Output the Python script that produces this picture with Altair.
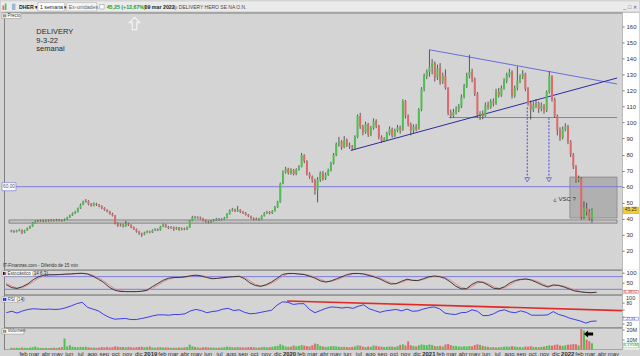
import altair as alt
import pandas as pd

# ---------------- weekly candles (close / high / low) and volume (millions) ----------------
first_open = 32.0

close_2018 = [32.5, 31.8, 32.6, 33.0, 31.5, 32.8, 34.0, 35.2, 37.6, 38.4,
              38.6, 38.9, 38.4, 39.0, 38.7, 39.2, 38.8, 39.4, 39.0, 38.8, 39.6,
              40.8, 42.0, 43.5, 44.2, 46.5, 48.8, 50.5, 51.2,
              49.0, 48.2, 49.5, 48.8, 47.9, 46.8, 45.5, 44.6, 43.2, 42.0,
              37.2, 35.8, 36.4, 35.2, 37.0, 36.2, 34.8, 33.6, 32.0, 30.8, 30.2, 31.5, 32.2, 31.6]
high_2018 = [33.2, 33.0, 33.1, 33.8, 33.4, 33.2, 34.6, 35.8, 38.0, 39.0,
             39.3, 39.5, 39.4, 39.6, 39.5, 39.8, 39.7, 40.0, 39.9, 39.5, 40.2,
             41.3, 42.6, 44.0, 45.0, 47.0, 49.5, 51.3, 52.3,
             51.6, 49.8, 50.2, 50.0, 49.2, 48.4, 47.2, 46.0, 45.0, 43.8,
             42.4, 37.8, 37.0, 36.9, 38.7, 37.6, 36.6, 35.2, 34.0, 32.5, 31.4, 32.0, 32.8, 32.6]
low_2018 = [31.6, 31.2, 31.5, 32.2, 30.5, 31.0, 32.5, 33.8, 35.0, 37.2,
            38.0, 38.2, 37.9, 38.0, 38.2, 38.3, 38.3, 38.4, 38.5, 38.2, 38.5,
            39.3, 40.5, 41.8, 43.0, 44.0, 46.2, 48.5, 50.0,
            48.4, 47.6, 47.8, 48.0, 47.2, 46.0, 45.0, 44.0, 42.6, 41.5,
            36.5, 35.0, 35.2, 34.6, 35.0, 35.5, 34.2, 33.0, 31.4, 30.0, 28.8, 29.8, 31.0, 31.0]
vol_2018 = [1.6, 1.4, 1.8, 1.5, 2.0, 1.7, 1.5, 1.9, 2.2, 3.0,
            1.8, 1.6, 1.5, 1.7, 1.4, 1.6, 1.8, 1.5, 2.0, 2.4,
            11.0, 3.0, 4.2, 2.8, 2.5, 2.2, 2.6, 2.4, 2.8, 2.2,
            1.8, 2.0, 1.6, 1.9, 2.4, 2.1, 2.6, 2.0, 2.3, 3.2,
            2.8, 2.4, 2.5, 2.1, 2.6, 2.2, 2.0, 2.3, 2.5, 2.8,
            2.2, 2.4, 3.0]

close_2019 = [32.8, 33.5, 32.9, 35.2, 36.4, 35.0, 34.2, 34.8, 33.6, 34.5, 33.2, 34.0, 33.4, 34.6,
              38.8, 41.2, 40.6, 41.0, 40.2, 39.0, 38.2, 37.8, 38.6, 39.2, 40.0, 39.4, 39.8, 40.5,
              43.0, 45.2, 46.0, 44.8, 45.6, 44.2, 43.8, 42.5, 41.6, 40.4, 39.6, 40.2, 39.4,
              41.8, 43.6, 44.2, 43.5, 44.8, 47.2, 50.5, 61.8, 69.0, 71.2, 68.5]
high_2019 = [33.4, 34.2, 34.0, 35.6, 37.0, 36.8, 35.5, 35.4, 35.2, 35.0, 34.9, 34.6, 34.5, 35.2,
             39.2, 41.9, 41.8, 41.6, 41.4, 40.6, 39.5, 38.8, 39.2, 39.8, 40.6, 40.5, 40.4, 41.2,
             43.6, 45.8, 46.8, 46.4, 48.0, 46.0, 44.9, 44.2, 43.0, 42.0, 40.9, 40.8, 40.6,
             42.3, 44.2, 45.0, 44.8, 45.4, 48.0, 51.2, 62.5, 70.2, 72.4, 71.8]
low_2019 = [31.2, 32.4, 32.3, 32.6, 34.8, 34.5, 33.6, 33.8, 32.5, 33.2, 32.6, 32.8, 32.9, 33.0,
            34.4, 38.5, 40.0, 40.0, 39.6, 38.5, 37.6, 37.2, 37.4, 38.2, 38.8, 38.9, 39.0, 39.4,
            40.2, 42.6, 44.6, 44.2, 44.3, 43.6, 43.0, 42.0, 41.0, 39.8, 39.0, 39.2, 38.9,
            39.2, 41.4, 43.0, 42.8, 43.0, 44.5, 46.8, 50.0, 61.5, 68.2, 67.6]
vol_2019 = [2.0, 1.8, 2.2, 2.4, 1.9, 2.1, 2.0, 1.6, 1.8, 1.7,
            2.0, 1.8, 2.2, 2.4, 4.8, 3.2, 2.5, 2.0, 1.8, 2.2,
            2.4, 2.1, 1.9, 2.0, 1.7, 1.8, 2.0, 2.2, 2.8, 2.6,
            2.3, 2.0, 2.4, 2.2, 1.9, 2.1, 2.3, 2.5, 2.2, 2.0,
            1.8, 2.4, 2.6, 2.1, 2.3, 2.8, 3.2, 3.6, 5.2, 4.0,
            3.0, 2.6]

close_2020 = [70.4, 67.8, 70.8, 72.5, 79.5, 76.0, 68.0, 66.2, 64.0, 58.0, 64.5, 68.5,
              65.0, 67.5, 70.2, 74.5, 80.0, 86.5, 88.0, 84.5, 89.0, 86.0, 85.0, 84.0,
              91.0, 104.0, 97.5, 94.0, 99.0, 92.5, 96.5, 101.0, 98.0, 91.0, 88.5, 89.5,
              93.0, 96.0, 91.5, 95.0, 97.0, 95.5, 113.5, 104.0, 99.0, 95.0, 97.5, 96.0,
              108.0, 121.0, 129.0, 131.5]
high_2020 = [71.5, 71.0, 71.5, 73.4, 81.0, 80.2, 76.5, 69.0, 67.0, 65.0, 66.0, 69.5,
             69.8, 68.8, 71.2, 75.5, 81.0, 87.5, 91.0, 89.0, 91.5, 90.0, 87.5, 86.0,
             92.0, 105.0, 106.0, 98.5, 100.5, 99.8, 97.8, 102.5, 102.0, 98.5, 92.0, 90.8,
             94.2, 97.5, 96.8, 96.2, 98.5, 98.0, 114.5, 114.0, 105.0, 100.0, 98.8, 99.0,
             109.0, 122.0, 130.5, 133.0]
low_2020 = [67.5, 67.0, 67.2, 70.0, 72.0, 74.6, 67.0, 65.0, 62.5, 55.0, 50.3, 63.0,
            63.8, 64.2, 66.8, 69.5, 73.8, 79.0, 85.0, 83.0, 84.0, 84.8, 83.5, 82.6,
            83.5, 90.2, 96.0, 92.0, 93.0, 91.0, 91.5, 95.5, 96.5, 89.5, 87.3, 87.8,
            88.8, 92.0, 90.5, 90.8, 94.0, 93.0, 94.8, 102.5, 97.5, 92.0, 93.5, 94.5,
            95.5, 107.0, 119.4, 127.0]
vol_2020 = [2.8, 4.0, 3.2, 3.6, 4.4, 3.8, 3.4, 3.0, 4.2, 6.0,
            5.4, 3.6, 3.0, 2.6, 2.8, 3.2, 3.5, 3.0, 2.8, 2.5,
            2.7, 2.4, 2.2, 2.6, 3.0, 4.2, 3.8, 2.8, 2.5, 3.0,
            2.6, 4.0, 3.6, 3.0, 2.8, 2.4, 2.6, 3.0, 2.8, 2.5,
            3.2, 4.6, 5.2, 4.0, 8.0, 4.2, 3.6, 3.0, 4.2, 5.0,
            4.6, 4.2]

close_2021 = [134.5, 137.0, 128.0, 134.0, 125.5, 129.0, 121.5, 106.0, 104.0, 106.5, 108.0, 110.0,
              116.0, 122.5, 129.0, 131.5, 127.0, 118.0, 104.5, 105.5, 104.0, 111.0, 109.5, 113.0,
              112.0, 119.0, 117.0, 121.5, 126.0, 129.5, 131.5, 116.5, 121.5, 126.0, 128.5, 130.5,
              121.0, 112.0, 108.0, 111.0, 112.0, 108.5, 110.5, 107.5, 119.0, 129.0, 114.5, 104.0,
              95.0, 90.5, 96.0, 97.5]
high_2021 = [145.3, 139.5, 138.0, 136.0, 137.0, 131.0, 133.0, 122.0, 108.0, 108.5, 110.0, 111.5,
             117.5, 124.0, 131.0, 142.2, 133.5, 128.0, 119.0, 107.0, 107.5, 112.5, 113.0, 114.5,
             115.0, 121.0, 121.5, 123.0, 127.5, 131.0, 133.5, 132.5, 123.0, 135.0, 130.0, 132.5,
             131.0, 122.0, 113.5, 113.0, 114.5, 113.0, 112.5, 111.5, 120.0, 131.9, 129.5, 115.5,
             105.0, 97.0, 97.5, 99.5]
low_2021 = [128.5, 130.0, 125.5, 126.5, 123.5, 124.0, 120.5, 104.5, 102.7, 103.0, 105.0, 106.5,
            109.0, 115.0, 121.5, 127.5, 125.0, 116.5, 103.0, 101.5, 102.0, 103.5, 108.0, 108.5,
            110.0, 111.0, 115.5, 116.0, 120.5, 124.5, 128.0, 115.0, 115.5, 120.0, 124.5, 127.0,
            119.5, 110.5, 101.9, 106.5, 109.0, 106.0, 107.0, 105.5, 106.5, 118.0, 113.0, 102.9,
            92.0, 88.5, 89.5, 94.5]
vol_2021 = [5.0, 4.4, 3.4, 3.2, 3.6, 3.0, 5.0, 5.6, 4.4, 3.6,
            3.4, 3.0, 2.8, 3.2, 3.0, 3.4, 3.2, 4.4, 5.2, 4.6,
            3.6, 3.0, 2.6, 2.2, 2.4, 2.0, 2.2, 2.4, 2.8, 3.0,
            2.8, 3.4, 3.0, 2.6, 2.4, 2.2, 3.0, 2.8, 3.4, 2.6,
            2.4, 2.2, 2.6, 2.8, 3.6, 4.2, 3.8, 4.6, 5.0, 4.0,
            3.6, 4.2]

close_2022 = [88.0, 80.0, 72.5, 64.0, 65.5, 41.0, 46.5, 44.5, 40.2, 45.25]
high_2022 = [98.5, 89.0, 81.0, 73.5, 67.0, 66.0, 51.0, 50.0, 46.0, 46.5]
low_2022 = [86.5, 78.5, 71.0, 62.5, 62.8, 39.5, 39.8, 42.0, 39.0, 37.6]
vol_2022 = [4.8, 5.0, 5.4, 5.2, 4.0, 20.5, 19.0, 10.0, 8.2, 6.2]

# ---------------- oscillators, read every two weeks ----------------
stoch_k = [42, 28, 24, 33, 46, 66, 80, 87, 89, 89, 90, 92, 93, 95, 96, 92, 82, 68, 52, 30,
           16, 10, 9, 9, 9, 11, 16, 33, 48, 63, 73, 76, 76, 79, 84, 87, 83, 76, 70, 72,
           75, 78, 80, 82, 70, 50, 38, 34, 42, 55, 72, 90, 95, 95, 92, 90, 82, 73, 60, 54,
           60, 70, 80, 90, 95, 95, 92, 85, 78, 69, 56, 45, 47, 58, 68, 62, 61, 70, 79, 83,
           80, 72, 55, 35, 22, 23, 43, 56, 53, 40, 25, 22, 32, 50, 62, 67, 69, 63, 52, 40,
           31, 41, 38, 31, 21, 12, 8, 5, 4, 6.4]
stoch_d = [48, 35, 26, 28, 40, 56, 73, 84, 88, 89, 90, 91, 92, 94, 95, 94, 87, 75, 60, 41,
           23, 13, 10, 9, 9, 10, 14, 25, 40, 56, 68, 75, 76, 78, 82, 86, 85, 80, 73, 71,
           74, 77, 79, 81, 76, 60, 44, 36, 38, 49, 64, 81, 93, 95, 94, 91, 86, 78, 67, 57,
           57, 65, 75, 85, 93, 95, 94, 89, 82, 74, 63, 51, 46, 53, 63, 65, 62, 66, 75, 81,
           82, 76, 64, 45, 29, 23, 33, 50, 55, 47, 33, 24, 27, 41, 56, 65, 68, 66, 58, 46,
           36, 36, 40, 35, 26, 17, 10, 7, 5, 5]
rsi = [51, 55, 50, 56, 60, 62, 61, 60, 61, 60, 61, 65, 70, 76, 80, 66, 61, 56, 46, 38,
       33, 34, 35, 32, 32, 35, 38, 42, 45, 45, 44, 46, 46, 48, 56, 60, 57, 51, 54, 56,
       61, 63, 57, 59, 52, 48, 49, 52, 55, 58, 72, 81, 80, 74, 76, 76, 60, 51, 57, 63,
       67, 66, 64, 66, 63, 69, 73, 62, 57, 52, 56, 58, 60, 56, 61, 55, 56, 61, 65, 67,
       62, 50, 47, 46, 51, 52, 59, 55, 43, 43, 48, 56, 59, 53, 51, 56, 52, 44, 44, 44,
       45, 54, 46, 42, 36, 32, 28, 22, 27, 28]

# ---------------- frames ----------------
closes = close_2018 + close_2019 + close_2020 + close_2021 + close_2022
highs = high_2018 + high_2019 + high_2020 + high_2021 + high_2022
lows = low_2018 + low_2019 + low_2020 + low_2021 + low_2022
vols = vol_2018 + vol_2019 + vol_2020 + vol_2021 + vol_2022
n = min(len(closes), len(highs), len(lows), len(vols))
opens = [first_open] + closes[:n - 1]
price = pd.DataFrame({
    "date": pd.date_range("2018-01-01", periods=n, freq="7D"),
    "open": opens[:n], "high": highs[:n], "low": lows[:n],
    "close": closes[:n], "vol": vols[:n]})
m = min(len(stoch_k), len(stoch_d), len(rsi))
osc = pd.DataFrame({"date": pd.date_range("2018-01-01", periods=m, freq="14D"),
                    "k": stoch_k[:m], "d": stoch_d[:m], "rsi": rsi[:m]})

T = pd.Timestamp
X0, X1 = T("2017-12-26"), T("2022-05-12")
one = pd.DataFrame({"k": [0]})

W, HP, HS, HR, HV = 620, 258, 25, 33, 22
BG = "#d4d4d4"
GREEN, RED = "#4fbf4f", "#e06a6a"
LBLUE, NAVY = "#7c7ce0", "#2c2c9c"
FONT = "Liberation Sans"

xsc = alt.Scale(domain=[alt.DateTime(year=2017, month=12, date=26),
                        alt.DateTime(year=2022, month=5, date=12)])
XN = alt.X("date:T", scale=xsc, axis=None)
up_cond = alt.condition("datum.close >= datum.open", alt.value(GREEN), alt.value(RED))


def raxis(vals, expr=None, size=6, baseline=None):
    kw = dict(orient="right", values=vals, title=None, labelFontSize=size, labelColor="#333",
              tickSize=2, tickColor="#777", domain=False, grid=False, labelPadding=2,
              zindex=3, labelFont=FONT)
    if expr:
        kw["labelExpr"] = expr
    if baseline:
        kw["labelBaseline"] = baseline
    return alt.Axis(**kw)


def vrect(x1, x2, y1, y2, **kw):
    return alt.Chart(one).mark_rect(**kw).encode(
        x=alt.value(x1), x2=alt.value(x2), y=alt.value(y1), y2=alt.value(y2))


def vtext(x, y, s, **kw):
    kw.setdefault("font", FONT)
    kw.setdefault("baseline", "middle")
    return alt.Chart(one).mark_text(text=s, **kw).encode(x=alt.value(x), y=alt.value(y))


def strip(h, top=0):
    return vrect(W + 0.5, W + 17, top, h, fill="white")


def label_box(text, w, y0, c1, c2):
    return [vrect(-2, w, y0, y0 + 5.5, fill="white", stroke="#9a9a9a", strokeWidth=0.6),
            vrect(-1, 0.8, y0 + 1.2, y0 + 4.3, fill=c1),
            vrect(0.8, 2.4, y0 + 1.2, y0 + 4.3, fill=c2),
            vtext(3.5, y0 + 2.9, text, fontSize=4.6, align="left", color="#333")]


def ytag(sc, ax, val, half, text, fill, stroke, tcolor, fs=4.8):
    d = pd.DataFrame({"lo": [val - half], "hi": [val + half], "v": [val]})
    r = alt.Chart(d).mark_rect(fill=fill, stroke=stroke, strokeWidth=0.6).encode(
        x=alt.value(W + 1), x2=alt.value(W + 16.5),
        y=alt.Y("lo:Q", scale=sc, axis=ax), y2="hi:Q")
    t = alt.Chart(d).mark_text(text=text, fontSize=fs, color=tcolor, font=FONT,
                               align="center", baseline="middle").encode(
        x=alt.value(W + 8.7), y=alt.Y("v:Q", scale=sc, axis=ax))
    return [r, t]


# ---------------- price panel ----------------
ysc = alt.Scale(domain=[8.3, 168.5], nice=False, zero=False)
pax = raxis(list(range(20, 170, 10)))

box_df = pd.DataFrame({"d1": [T("2022-01-08")], "d2": [X1], "lo": [40.5], "hi": [66.0]})
band_df = pd.DataFrame({"d1": [X0], "d2": [X1], "lo": [37.3], "hi": [39.3]})
hl_df = pd.DataFrame({"y": [60.0]})
seg_df = pd.DataFrame({
    "d1": [T("2021-02-24"), T("2021-01-04"), T("2020-06-11")],
    "d2": [X1, X1, X1],
    "y1": [103.1, 145.3, 82.6],
    "y2": [103.1, 124.0, 127.7],
    "kind": ["h", "top", "sup"]})
arr_df = pd.DataFrame({"date": [T("2021-09-18"), T("2021-11-14")],
                       "top": [109.5, 102.9], "bot": [65.6, 65.6], "head": [64.3, 64.3]})
note_df = pd.DataFrame({"date": [T("2018-03-08")] * 3,
                        "y": [156.3, 150.9, 145.5],
                        "t": ["DELIVERY", "9-3-22", "semanal"]})
vsc_df = pd.DataFrame({"date": [T("2021-11-25")], "y": [52.4], "t": ["¿ VSC ?"]})
uparrow_df = pd.DataFrame({"date": [T("2018-11-21")], "y": [161.7]})
UP_PATH = "M0,-1 L0.85,-0.15 L0.38,-0.15 L0.38,1 L-0.38,1 L-0.38,-0.15 L-0.85,-0.15 Z"
LEFT_PATH = "M-1,0 L-0.1,-0.75 L-0.1,-0.32 L1,-0.32 L1,0.32 L-0.1,0.32 L-0.1,0.75 Z"

P = []
P.append(strip(HP))
# toolbar
P += [vrect(-3, 637, -11, -0.5, fill="#ebebeb"),
      vrect(-3, 637, -0.8, 0, fill="#a0a0a0"),
      vrect(-1.5, 0.2, -7, -2.5, fill=RED), vrect(0.8, 2.5, -9, -2.5, fill=GREEN),
      vrect(8, 11.5, -9, -2.5, fill="#9bb8d8"),
      vtext(15, -5.5, "DHER ▾", fontSize=5.3, align="left", color="#222", fontWeight="bold"),
      vrect(34, 61, -10, -1.5, fill="white", stroke="#a5a5a5", strokeWidth=0.6),
      vtext(36, -5.5, "1 semana ▾", fontSize=5.3, align="left", color="#222"),
      vrect(63, 93, -10, -1.5, fill="#f4f4f4", stroke="#b5b5b5", strokeWidth=0.6),
      vtext(65, -5.5, "Ex-unidades ▾", fontSize=5.3, align="left", color="#666"),
      vrect(96, 100.5, -8, -3.5, fill="white", stroke="#999", strokeWidth=0.6),
      vtext(103, -5.5, "45,25 (+12,67%)", fontSize=5.3, align="left", color="#1f9a1f",
            fontWeight="bold"),
      vtext(141, -5.5, "09 mar 2022", fontSize=5.3, align="left", color="#222",
            fontWeight="bold"),
      vtext(170, -5.5, "◎ DELIVERY HERO SE NA O.N.", fontSize=5.0, align="left", color="#444"),
      vtext(628, -5.5, "_ □ ✕", fontSize=5.5, align="center", color="#555")]

P.append(alt.Chart(band_df).mark_rect(fill="#c3c3c3", stroke="#777", strokeWidth=0.8).encode(
    x=alt.X("d1:T", scale=xsc, axis=None), x2="d2:T",
    y=alt.Y("lo:Q", scale=ysc, axis=pax), y2="hi:Q"))
P.append(alt.Chart(box_df).mark_rect(fill="#b0b0b0", stroke="#888", strokeWidth=0.8).encode(
    x=alt.X("d1:T", scale=xsc, axis=None), x2="d2:T",
    y=alt.Y("lo:Q", scale=ysc, axis=pax), y2="hi:Q"))
P.append(alt.Chart(hl_df).mark_rule(color=LBLUE, strokeWidth=1).encode(
    y=alt.Y("y:Q", scale=ysc, axis=pax)))
P.append(alt.Chart(seg_df).mark_rule().encode(
    x=alt.X("d1:T", scale=xsc, axis=None), x2="d2:T",
    y=alt.Y("y1:Q", scale=ysc, axis=pax), y2="y2:Q",
    color=alt.Color("kind:N", scale=alt.Scale(domain=["h", "top", "sup"],
                                              range=[LBLUE, "#6b6be0", NAVY]), legend=None),
    strokeWidth=alt.StrokeWidth("kind:N", scale=alt.Scale(domain=["h", "top", "sup"],
                                                          range=[1, 1, 1.6]), legend=None)))
# candles
P.append(alt.Chart(price).mark_rule(color="#3a3a3a", strokeWidth=0.8).encode(
    x=XN, y=alt.Y("low:Q", scale=ysc, axis=pax), y2="high:Q"))
P.append(alt.Chart(price).mark_bar(size=2).encode(
    x=XN, y=alt.Y("open:Q", scale=ysc, axis=pax), y2="close:Q", color=up_cond))
# projected-target arrows
P.append(alt.Chart(arr_df).mark_rule(color="#4a4ae0", strokeWidth=1, strokeDash=[2, 1.5]).encode(
    x=XN, y=alt.Y("top:Q", scale=ysc, axis=pax), y2="bot:Q"))
P.append(alt.Chart(arr_df).mark_point(shape="triangle-down", filled=False, size=24,
                                      color="#4a4ae0", strokeWidth=1).encode(
    x=XN, y=alt.Y("head:Q", scale=ysc, axis=pax)))
# notes
P.append(alt.Chart(note_df).mark_text(align="left", baseline="middle", fontSize=7.5,
                                      color="#2a2a2a", font=FONT).encode(
    x=XN, y=alt.Y("y:Q", scale=ysc, axis=pax), text="t:N"))
P.append(alt.Chart(vsc_df).mark_text(align="left", baseline="middle", fontSize=6,
                                     color="#333", font=FONT).encode(
    x=XN, y=alt.Y("y:Q", scale=ysc, axis=pax), text="t:N"))
P.append(alt.Chart(uparrow_df).mark_point(shape=UP_PATH, filled=False, size=150,
                                          stroke="white", strokeWidth=1.3).encode(
    x=XN, y=alt.Y("y:Q", scale=ysc, axis=pax)))
# tags
P += label_box("Precio", 17, 0.5, RED, GREEN)
tag60 = pd.DataFrame({"lo": [57.5], "hi": [62.5], "v": [60.0]})
P.append(alt.Chart(tag60).mark_rect(fill="white", stroke=LBLUE, strokeWidth=0.7).encode(
    x=alt.value(-2), x2=alt.value(12), y=alt.Y("lo:Q", scale=ysc, axis=pax), y2="hi:Q"))
P.append(alt.Chart(tag60).mark_text(text="60,00", fontSize=4.8, color="#555", font=FONT).encode(
    x=alt.value(5), y=alt.Y("v:Q", scale=ysc, axis=pax)))
P += ytag(ysc, pax, 45.25, 2.0, "45,25", "#f0cf3a", "#c9a820", "#333")
P.append(vtext(-1, 254.5, "IT-Finanzas.com - Diferido de 15 min", fontSize=4.6,
               align="left", color="#333"))
price_panel = alt.layer(*P).properties(width=W, height=HP)

# ---------------- stochastic ----------------
ssc = alt.Scale(domain=[-5.2, 112.7], nice=False, zero=False)
sax = raxis([50, 100])
lv = pd.DataFrame({"y": [20, 80]})
S = [strip(HS),
     alt.Chart(lv).mark_rule(color=LBLUE, strokeWidth=1).encode(y=alt.Y("y:Q", scale=ssc, axis=sax)),
     alt.Chart(osc).mark_line(color="#e38a8a", strokeWidth=1).encode(
         x=XN, y=alt.Y("d:Q", scale=ssc, axis=sax)),
     alt.Chart(osc).mark_line(color="#2b2b2b", strokeWidth=0.9).encode(
         x=XN, y=alt.Y("k:Q", scale=ssc, axis=sax))]
S += label_box("Estocástico (14 6 3)", 31, 1, "#111", RED)
S += ytag(ssc, sax, 8.0, 7.0, "6,3892", "white", "#d08080", "#d03030", fs=4.4)
stoch_panel = alt.layer(*S).properties(width=W, height=HS)

# ---------------- RSI ----------------
rsc = alt.Scale(domain=[9.75, 101.2], nice=False, zero=False)
rax = raxis([20, 40, 60, 80], size=5,
            baseline={"condition": {"test": "datum.value == 40", "value": "bottom"},
                      "value": "middle"})
trend = pd.DataFrame({"d1": [T("2019-12-28")], "d2": [X1], "y1": [83.7], "y2": [56.8]})
R = [strip(HR),
     alt.Chart(trend).mark_rule(color="#e02a2a", strokeWidth=1.6).encode(
         x=alt.X("d1:T", scale=xsc, axis=None), x2="d2:T",
         y=alt.Y("y1:Q", scale=rsc, axis=rax), y2="y2:Q"),
     alt.Chart(osc).mark_line(color="#2a2ae6", strokeWidth=0.9).encode(
         x=XN, y=alt.Y("rsi:Q", scale=rsc, axis=rax))]
R += label_box("RSI (14)", 18, 2, "#2a2ae6", "#2a2ae6")
R.append(vtext(W + 4, 3.2, "100", fontSize=5.5, align="left", color="#333"))
R += ytag(rsc, rax, 34.0, 4.0, "27,91", "white", "#8080e0", "#2a2ae6", fs=3.8)
rsi_panel = alt.layer(*R).properties(width=W, height=HR)

# ---------------- volume + time axis ----------------
vsc = alt.Scale(domain=[0, 22], nice=False, zero=True)
vax = raxis([10, 20], "datum.value + 'M'", size=5.5)
months = ["ene", "feb", "mar", "abr", "may", "jun", "jul", "ago", "sep", "oct", "nov", "dic"]
tick_vals = []
for yy in range(2018, 2023):
    for mm in range(1, 13):
        if (yy == 2018 and mm == 1) or (yy == 2022 and mm > 5):
            continue
        tick_vals.append(alt.DateTime(year=yy, month=mm, date=1))
xaxis = alt.Axis(values=tick_vals, title=None, grid=False, domain=False, ticks=False,
                 labelFontSize=6, labelColor="#333", labelFont=FONT, labelPadding=1,
                 labelOverlap=False, labelFlush=False, labelAlign="center",
                 labelBaseline="top", zindex=3,
                 labelExpr="month(datum.value) == 0 ? timeFormat(datum.value, '%Y') : "
                           + str(months) + "[month(datum.value)]",
                 labelFontWeight={"condition": {"test": "month(datum.value) == 0",
                                                "value": "bold"}, "value": "normal"})
XV = alt.X("date:T", scale=xsc, axis=xaxis)
blk = pd.DataFrame({"date": [T("2022-02-26")], "v": [15.5]})
V = [strip(HV),
     vrect(-3, 637, HV + 0.5, HV + 7.5, fill=BG),
     alt.Chart(price).mark_bar(size=2).encode(
         x=XV, y=alt.Y("vol:Q", scale=vsc, axis=vax), color=up_cond),
     alt.Chart(blk).mark_point(shape=LEFT_PATH, filled=True, size=85, color="black",
                               opacity=1).encode(x=XV, y=alt.Y("v:Q", scale=vsc, axis=vax))]
V += label_box("Volumen", 20, 1, GREEN, RED)
V += ytag(vsc, vax, 4.0, 2.4, "6,195M", "white", "#70c070", "#1f9a1f", fs=4.4)
vol_panel = alt.layer(*V).properties(width=W, height=HV)

chart = alt.vconcat(price_panel, stoch_panel, rsi_panel, vol_panel,
                    spacing=0, bounds="flush").properties(
    background=BG, padding=0
).configure_view(stroke="#7f7f7f", strokeWidth=1, fill=BG)

chart.save("out.html", embed_options={"renderer": "svg", "actions": False})
